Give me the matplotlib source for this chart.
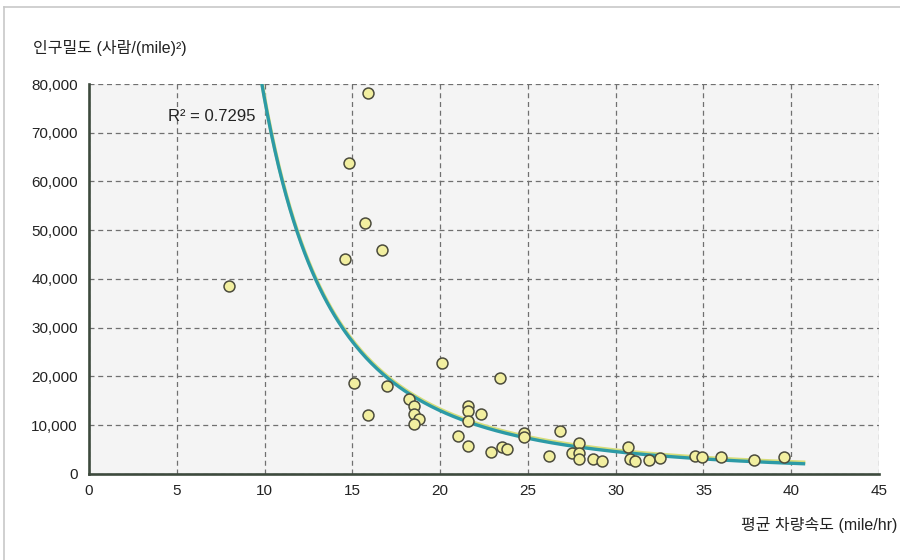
import numpy as np
import matplotlib
matplotlib.use("Agg")
import matplotlib.pyplot as plt
from matplotlib.lines import Line2D

plt.rcParams['font.family'] = ['Liberation Sans', 'Noto Sans CJK KR', 'DejaVu Sans']

# average vehicle speed (mile/hr)
speed = [8.0, 14.6, 14.8, 15.1, 15.7, 15.9, 15.9, 16.7, 17.0, 18.2,
         18.5, 18.5, 18.8, 18.5, 20.1, 21.0, 21.6, 21.6, 21.6, 21.6,
         22.3, 22.9, 23.4, 23.5, 23.8, 24.8, 24.8, 26.2, 26.8, 27.5,
         27.9, 27.9, 27.9, 28.7, 29.2, 30.7, 30.8, 31.1, 31.9, 32.5,
         34.5, 34.9, 36.0, 37.9, 39.6]
# population density (people / mile^2)
density = [38600, 44200, 63700, 18600, 51400, 78100, 12100, 45900, 18000, 15300,
           13900, 12400, 11200, 10300, 22700, 7700, 14000, 12900, 10900, 5700,
           12400, 4600, 19600, 5500, 5100, 8400, 7600, 3600, 8800, 4400,
           6300, 4400, 3000, 3100, 2700, 5600, 3100, 2700, 2800, 3200,
           3700, 3400, 3400, 2800, 3500]

# power trend line y = a * x^b
fit_a = 2.83e7
fit_b = -2.566
fit_range = (9.0, 40.7)
r2_label = 'R² = 0.7295'

xticks = [0, 5, 10, 15, 20, 25, 30, 35, 40, 45]
yticks = [0, 10000, 20000, 30000, 40000, 50000, 60000, 70000, 80000]

fig = plt.figure(figsize=(9, 5.6), dpi=100)
ax = fig.add_axes([0.0989, 0.1536, 0.8778, 0.6964])
ax.set_facecolor('#f4f4f4')

ax.set_xlim(0, 45)
ax.set_ylim(0, 80000)
ax.set_xticks(xticks)
ax.set_yticks(yticks)
ax.set_yticklabels(['{:,}'.format(v) for v in yticks])
ax.tick_params(length=0, labelsize=11, colors='#222222', pad=7)
ax.tick_params(axis='y', pad=8)

ax.grid(True, color='#707070', linestyle=(0, (4, 3)), linewidth=0.9)
ax.set_axisbelow(True)

for s in ['top', 'right']:
    ax.spines[s].set_visible(False)
for s in ['left', 'bottom']:
    ax.spines[s].set_color('#3d4a3d')
    ax.spines[s].set_linewidth(1.9)

# trend line
xs = np.linspace(fit_range[0], fit_range[1], 300)
ys = fit_a * xs ** fit_b
ax.plot(xs, ys + 300, color='#d6dd7a', linewidth=2.6, zorder=2)
ax.plot(xs, ys, color='#2c9aa6', linewidth=2.4, zorder=3)

ax.scatter(speed, density, s=62, facecolor='#f2efa0', edgecolor='#4b4b3c',
           linewidth=1.1, zorder=4, clip_on=False)

ax.text(4.5, 73400, r2_label, fontsize=12, color='#222222', va='center', ha='left')

fig.text(33 / 900, 1 - 48 / 560, '인구밀도 (사람/(mile)²)', fontsize=11.5,
         color='#222222', va='center', ha='left')
fig.text(897 / 900, 1 - 525 / 560, '평균 차량속도 (mile/hr)', fontsize=11.5,
         color='#222222', va='center', ha='right')

# thin frame of the page
fig.add_artist(Line2D([4 / 900, 1], [1 - 7 / 560, 1 - 7 / 560], color='#c8c8c8', linewidth=1.2))
fig.add_artist(Line2D([4 / 900, 4 / 900], [0, 1 - 7 / 560], color='#c8c8c8', linewidth=1.2))

fig.savefig('out.png', dpi=100)
